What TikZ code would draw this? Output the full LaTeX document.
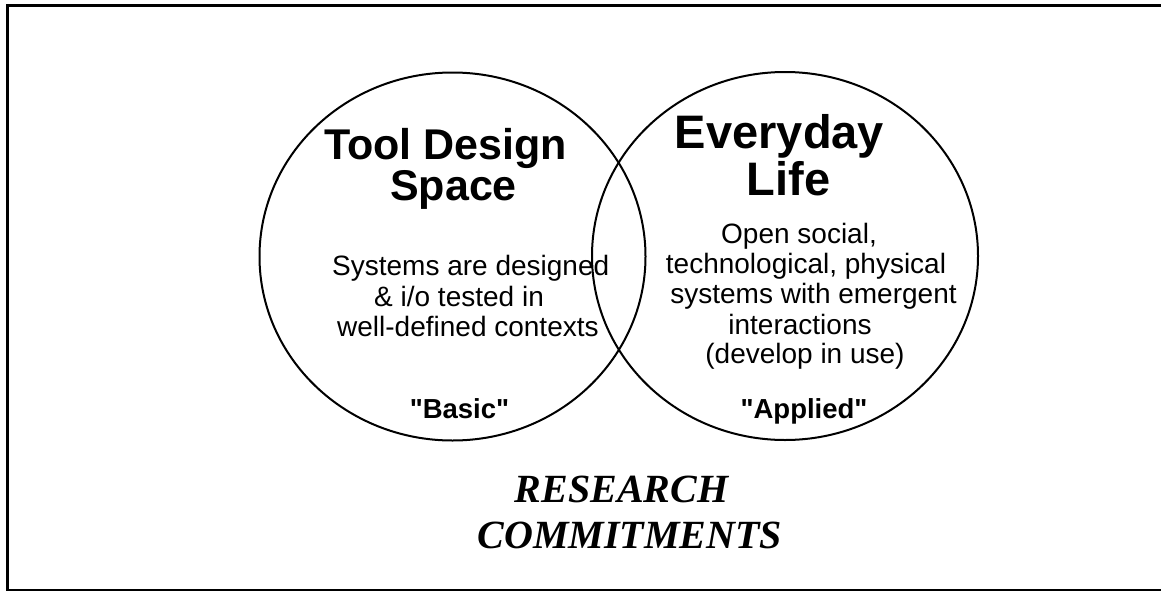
\documentclass[tikz,border=0pt]{standalone}
\usepackage{fontspec}
\setmainfont{Liberation Serif}
\newfontfamily\arialf{Liberation Sans}
\begin{document}
\begin{tikzpicture}[x=1pt,y=-1pt,
  ring/.style={draw=black,line width=2pt},
  title/.style={inner sep=0pt,anchor=base,font=\arialf\bfseries\fontsize{43}{43}\selectfont},
  bigtitle/.style={inner sep=0pt,anchor=base,font=\arialf\bfseries\fontsize{47}{47}\selectfont},
  body/.style={inner sep=0pt,font=\arialf\fontsize{28}{28}\selectfont},
  tag/.style={inner sep=0pt,anchor=base,font=\arialf\bfseries\fontsize{27.5}{27.5}\selectfont},
  banner/.style={inner sep=0pt,anchor=base,font=\bfseries\itshape\fontsize{40}{40}\selectfont}]
\useasboundingbox (0,0) rectangle (1161,592);
% frame: heavy top and left edges, lighter bottom edge
\draw[line width=3pt] (1161,5.5) -- (7.5,5.5) -- (7.5,591);
\draw[line width=2pt] (6,590) -- (1161,590);
% the two overlapping fields
\draw[ring] (452.5,256.5) ellipse [x radius=193, y radius=184];
\draw[ring] (785,256) ellipse [x radius=193, y radius=184];
% left field
\node[title] (tool) at (445.5,159) {Tool Design};
\node[title] (space) at (453.5,200) {Space};
\node[body,anchor=base west] (sys1) at (332,275) {Systems are designed};
\node[body,anchor=base west] (sys2) at (374,306) {\& i/o tested in};
\node[body,anchor=base west] (sys3) at (337,336) {well-defined contexts};
\node[tag] (basic) at (459.5,418) {"Basic"};
% right field
\node[bigtitle] (every) at (779.5,148) {Everyday};
\node[bigtitle] (life) at (788.5,195) {Life};
\node[body,anchor=base] (open1) at (799,243) {Open social,};
\node[body,anchor=base] (open2) at (806,273) {technological, physical};
\node[body,anchor=base] (open3) at (813.5,303) {systems with emergent};
\node[body,anchor=base] (open4) at (800,334) {interactions};
\node[body,anchor=base] (open5) at (805,363) {(develop in use)};
\node[tag] (applied) at (804,418) {"Applied"};
% caption
\node[banner] (res) at (621.5,502) {RESEARCH};
\node[banner] (com) at (630,548) {COMMITMENTS};
\end{tikzpicture}
\end{document}
